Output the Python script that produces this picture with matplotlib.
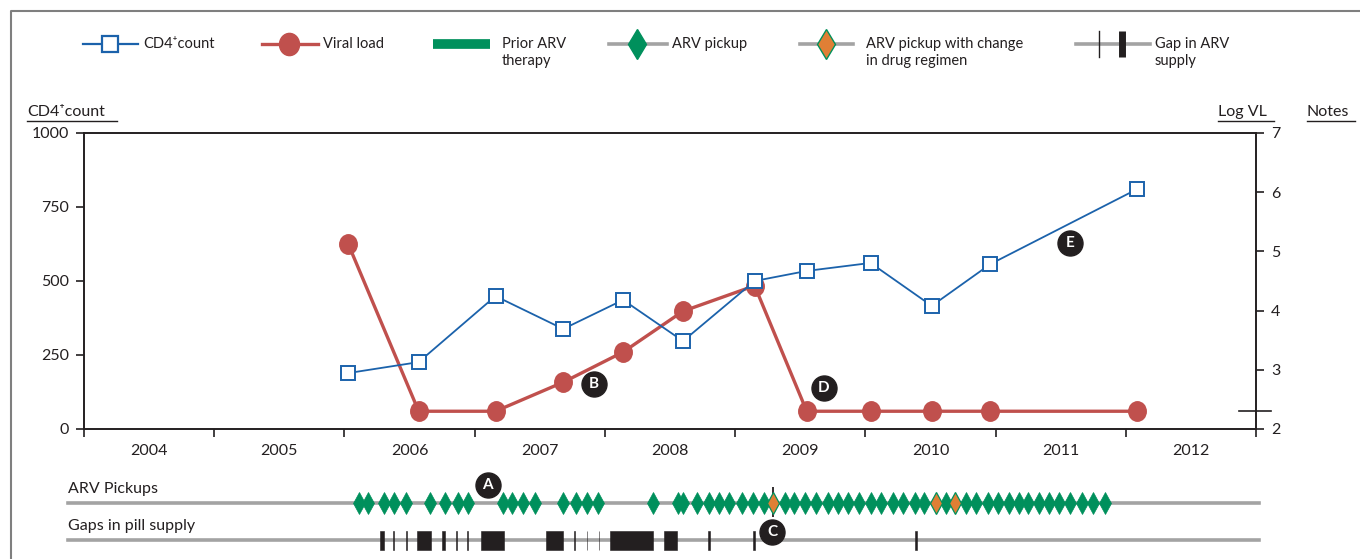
import matplotlib
matplotlib.use('Agg')
import matplotlib.pyplot as plt
import matplotlib.transforms as mtransforms
from matplotlib.path import Path

plt.rcParams['font.family'] = ['Lato', 'DejaVu Sans']

# ---- data (decimal years) ----
test_dates = [2006.03, 2006.57, 2007.16, 2007.68, 2008.14, 2008.60,
              2009.15, 2009.55, 2010.04, 2010.51, 2010.96, 2012.09]
cd4_count = [189, 226, 449, 338, 436, 297, 500, 534, 561, 416, 557, 811]
log_vl = [5.12, 2.30, 2.30, 2.79, 3.30, 3.99, 4.42, 2.30, 2.30, 2.30, 2.30, 2.30]
vl_limit = 2.30

pickup_dates = [2006.11, 2006.18, 2006.30, 2006.38, 2006.47, 2006.66, 2006.77, 2006.87,
                2006.95, 2007.22, 2007.29, 2007.37, 2007.46, 2007.68, 2007.78, 2007.86,
                2007.95, 2008.37, 2008.56, 2008.60, 2008.71, 2008.80, 2008.88, 2008.95,
                2009.05, 2009.14, 2009.22, 2009.38, 2009.45, 2009.54, 2009.62, 2009.71,
                2009.79, 2009.87, 2009.95, 2010.04, 2010.12, 2010.21, 2010.29, 2010.38,
                2010.45, 2010.62, 2010.77, 2010.85, 2010.94, 2011.02, 2011.10, 2011.18,
                2011.25, 2011.33, 2011.41, 2011.49, 2011.57, 2011.66, 2011.75, 2011.84]
change_dates = [2009.29, 2010.54, 2010.69]

gap_start = [2006.27, 2006.374, 2006.474, 2006.554, 2006.746, 2006.859, 2006.943, 2007.046,
             2007.546, 2007.766, 2007.859, 2007.951, 2008.038, 2008.454, 2008.794,
             2009.135, 2010.38]
gap_len = [0.03, 0.007, 0.007, 0.108, 0.03, 0.007, 0.007, 0.177,
           0.131, 0.007, 0.007, 0.007, 0.331, 0.10, 0.014,
           0.014, 0.014]

years = list(range(2004, 2013))

# note markers: (letter, year, value on that panel's scale)
notes_main = [('B', 2007.915, 152), ('D', 2009.68, 139), ('E', 2011.57, 628)]
notes_rows = [('A', 2007.10, 74), ('C', 2009.285, 27)]

BLUE = '#1b62ab'
RED = '#c0504d'
GREEN = '#00905c'
ORANGE = '#e07f35'
GREY = '#a3a3a3'
INK = '#231f20'

# slightly tall oval for viral load points
_c = Path.unit_circle()
OVAL = Path(_c.vertices * [0.9, 1.0], _c.codes)

W, H = 1360, 559
fig = plt.figure(figsize=(W / 100, H / 100), dpi=100)

# overlay in pixel units for legend, border and titles
lax = fig.add_axes([0, 0, 1, 1])
lax.set_xlim(0, W)
lax.set_ylim(H, 0)
lax.axis('off')

# main plot
ax = fig.add_axes([84 / W, 1 - 429 / H, (1256 - 84) / W, (429 - 133) / H])
ax2 = ax.twinx()
ax.set_zorder(ax2.get_zorder() + 1)
ax.patch.set_visible(False)

ax2.plot(test_dates, log_vl, color=RED, lw=2.4, marker=OVAL, ms=14,
         mfc=RED, mec=RED, zorder=3)
ax.plot(test_dates, cd4_count, color=BLUE, lw=1.3, marker='s', ms=10,
        mfc='white', mec=BLUE, mew=1.4, zorder=4)

ax.set_xlim(2004, 2013)
ax.set_ylim(0, 1000)
ax2.set_ylim(2, 7)
ax.set_yticks([0, 250, 500, 750, 1000])
ax2.set_yticks([2, 3, 4, 5, 6, 7])
ax.set_xticks(years + [2013])
ax.set_xticklabels([])
ax.set_xticks([y + 0.5 for y in years], minor=True)
ax.set_xticklabels([str(y) for y in years], minor=True)

for a in (ax, ax2):
    for s in a.spines.values():
        s.set_color(INK)
        s.set_linewidth(1.2)
ax.tick_params(axis='both', which='major', direction='out', length=6, width=1.2,
               color=INK, labelsize=11.5, labelcolor=INK, pad=5)
ax.tick_params(axis='x', which='minor', length=0, labelsize=11.5, labelcolor=INK, pad=11)
ax2.tick_params(axis='y', direction='out', length=6, width=1.2, color=INK,
                labelsize=11.5, labelcolor=INK, pad=5)

# limit of detection mark on the right axis
blend = mtransforms.blended_transform_factory(ax2.transAxes, ax2.transData)
ax2.plot([(1239 - 84) / 1172, (1271 - 84) / 1172], [vl_limit, vl_limit],
         color=INK, lw=1.2, transform=blend, clip_on=False)


def note(a, letter, x, y):
    a.plot([x], [y], marker='o', ms=18, color=INK, zorder=6, clip_on=False)
    a.text(x, y, letter, color='white', fontsize=11, fontweight='bold',
           ha='center', va='center', zorder=7)


for letter, x, y in notes_main:
    note(ax, letter, x, y)

# pickup and gap rows
rax = fig.add_axes([84 / W, 0, 1172 / W, 92 / H])
rax.set_xlim(2004, 2013)
rax.set_ylim(0, 92)
rax.axis('off')
row_pick, row_gap = 56, 19
for ry in (row_pick, row_gap):
    rax.plot([2003.877, 2013.023], [ry, ry], color=GREY, lw=2.6, clip_on=False, zorder=1)
rax.plot(pickup_dates, [row_pick] * len(pickup_dates), ls='none', marker='d', ms=11,
         mfc=GREEN, mec=GREEN, mew=0.5, zorder=3)
rax.vlines(change_dates[0], 42, 72, color=INK, lw=1.3, zorder=2)
rax.plot(change_dates, [row_pick] * len(change_dates), ls='none', marker='d', ms=11,
         mfc=ORANGE, mec=GREEN, mew=0.9, zorder=4)
rax.broken_barh(list(zip(gap_start, gap_len)), (row_gap - 9.5, 19), facecolor=INK,
                edgecolor=INK, lw=0.4, zorder=3)
for letter, x, y in notes_rows:
    note(rax, letter, x, y)

lax.text(68, 489, 'ARV Pickups', fontsize=11.5, color=INK, va='center')
lax.text(68, 526, 'Gaps in pill supply', fontsize=11.5, color=INK, va='center')

# axis titles (underlined)
for x0, x1, label in [(27, 117, 'CD4⁺count'), (1218, 1274, 'Log VL'), (1307, 1355, 'Notes')]:
    lax.text(x0, 112, label, fontsize=11.5, color=INK, va='center')
    lax.plot([x0, x1], [121, 121], color=INK, lw=1.0)

# figure border
lax.plot([11, 11, W], [H, 11, 11], color='#7f7f7f', lw=1.5)

# legend
ly = 44
fs = 10.5
lax.plot([83, 138], [ly, ly], color=BLUE, lw=1.6)
lax.plot([110], [ly], marker='s', ms=12, mfc='white', mec=BLUE, mew=1.6)
lax.text(143, ly, 'CD4⁺count', fontsize=fs, color=INK, va='center')

lax.plot([262, 318], [ly, ly], color=RED, lw=2.4)
lax.plot([289], [ly], marker=OVAL, ms=16, color=RED)
lax.text(323, ly, 'Viral load', fontsize=fs, color=INK, va='center')

lax.plot([433, 490], [ly, ly], color=GREEN, lw=7, solid_capstyle='butt')
lax.text(502, ly - 7, 'Prior ARV\ntherapy', fontsize=fs, color=INK, va='top',
         linespacing=1.3)

lax.plot([609, 667], [ly, ly], color=GREY, lw=2.6)
lax.plot([637], [ly], marker='d', ms=15, mfc=GREEN, mec=GREEN)
lax.text(672, ly, 'ARV pickup', fontsize=fs, color=INK, va='center')

lax.plot([800, 853], [ly, ly], color=GREY, lw=2.6)
lax.plot([826], [ly], marker='d', ms=15, mfc=ORANGE, mec=GREEN, mew=1)
lax.text(866, ly - 7, 'ARV pickup with change\nin drug regimen', fontsize=fs,
         color=INK, va='top', linespacing=1.3)

lax.plot([1076, 1150], [ly, ly], color=GREY, lw=2.6)
lax.plot([1099, 1099], [31, 57], color=INK, lw=1.0)
lax.plot([1122, 1122], [31, 57], color=INK, lw=5, solid_capstyle='butt')
lax.text(1155, ly - 7, 'Gap in ARV\nsupply', fontsize=fs, color=INK, va='top',
         linespacing=1.3)

fig.savefig('out.png', dpi=100)
